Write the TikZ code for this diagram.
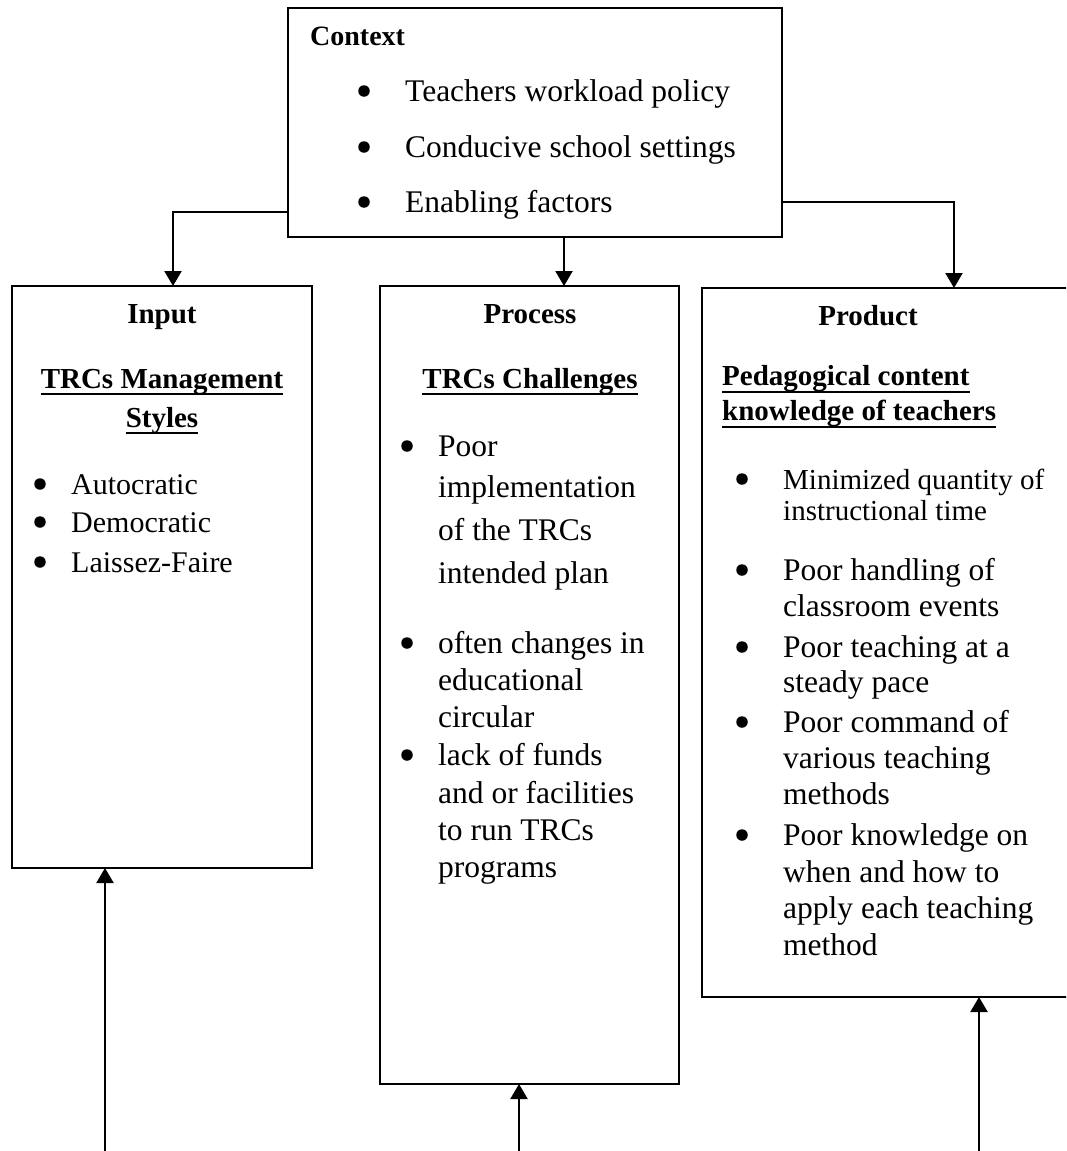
\documentclass[tikz,border=0pt]{standalone}
\usepackage{fontspec}
\setmainfont{Liberation Serif}
\usetikzlibrary{calc,arrows.meta}
\begin{document}
\begin{tikzpicture}[x=1pt,y=-1pt,
  box/.style={draw,line width=2.2pt,anchor=north west,inner sep=0pt,outer sep=0pt},
  arr/.style={line width=2.2pt,-{Triangle[length=15pt,width=17pt]}},
  bul/.style={circle,fill,inner sep=0pt,minimum size=11.5pt},
  hd/.style={anchor=base,inner sep=0pt,font=\bfseries\fontsize{29}{29}\selectfont},
  hl/.style={anchor=base west,inner sep=0pt,font=\bfseries\fontsize{29}{29}\selectfont},
  tx/.style={anchor=base west,inner sep=0pt,font=\fontsize{31.5}{31.5}\selectfont},
  tin/.style={anchor=base west,inner sep=0pt,font=\fontsize{30}{30}\selectfont},
  tsm/.style={anchor=base west,inner sep=0pt,font=\fontsize{29}{29}\selectfont},
  ul/.style={line width=2pt}
]
\clip (0,0) rectangle (1066,1151);
\fill[white] (0,0) rectangle (1066,1151);

% boxes
\node[box,minimum width=494pt,minimum height=229pt] (ctx) at (288,8) {};
\node[box,minimum width=300pt,minimum height=582pt] (inp) at (12,286) {};
\node[box,minimum width=299pt,minimum height=798pt] (proc) at (380,286) {};
\node[box,minimum width=390pt,minimum height=709pt] (prod) at (702,288) {};

% context text
\node[hl,font=\bfseries\fontsize{28}{28}\selectfont] (cth) at (310,45) {Context};
\node[bul] (cb1) at (364,91) {};
\node[tx] (ct1) at (405,101) {Teachers workload policy};
\node[bul] (cb2) at (364,147) {};
\node[tx] (ct2) at (405,157) {Conducive school settings};
\node[bul] (cb3) at (364,202) {};
\node[tx] (ct3) at (405,212) {Enabling factors};

% input text
\node[hd] (ih1) at (162,323) {Input};
\node[hd] (ih2) at (162,388) {TRCs Management};
\node[hd] (ih3) at (162,427) {Styles};
\draw[ul] ($(ih2.base west)+(0,6)$) -- ($(ih2.base east)+(0,6)$);
\draw[ul] ($(ih3.base west)+(0,6)$) -- ($(ih3.base east)+(0,6)$);
\node[bul] (ib1) at (40,484) {};
\node[tin] (it1) at (71,494) {Autocratic};
\node[bul] (ib2) at (40,522) {};
\node[tin] (it2) at (71,532) {Democratic};
\node[bul] (ib3) at (40,562) {};
\node[tin] (it3) at (71,572) {Laissez-Faire};

% process text
\node[hd] (ph1) at (530,323) {Process};
\node[hd] (ph2) at (530,388) {TRCs Challenges};
\draw[ul] ($(ph2.base west)+(0,6)$) -- ($(ph2.base east)+(0,6)$);
\node[bul] (pb1) at (407,446) {};
\node[tx] (pt1) at (438,456) {Poor};
\node[tx] (pt2) at (438,497) {implementation};
\node[tx] (pt3) at (438,540) {of the TRCs};
\node[tx] (pt4) at (438,583) {intended plan};
\node[bul] (pb2) at (407,643) {};
\node[tx] (pt5) at (438,653) {often changes in};
\node[tx] (pt6) at (438,690) {educational};
\node[tx] (pt7) at (438,727) {circular};
\node[bul] (pb3) at (407,755) {};
\node[tx] (pt8) at (438,765) {lack of funds};
\node[tx] (pt9) at (438,803) {and or facilities};
\node[tx] (pt10) at (438,840) {to run TRCs};
\node[tx] (pt11) at (438,877) {programs};

% product text
\node[hd] (rh1) at (868,325) {Product};
\node[hl] (rh2) at (722,385) {Pedagogical content};
\node[hl] (rh3) at (722,420) {knowledge of teachers};
\draw[ul] ($(rh2.base west)+(0,7)$) -- ($(rh2.base east)+(0,7)$);
\draw[ul] ($(rh3.base west)+(0,7)$) -- ($(rh3.base east)+(0,7)$);
\node[bul] (rb1) at (742,479) {};
\node[tsm] (rt1) at (783,489) {Minimized quantity of};
\node[tsm] (rt2) at (783,520) {instructional time};
\node[bul] (rb2) at (742,570) {};
\node[tx] (rt3) at (783,580) {Poor handling of};
\node[tx] (rt4) at (783,616) {classroom events};
\node[bul] (rb3) at (742,647) {};
\node[tx] (rt5) at (783,657) {Poor teaching at a};
\node[tx] (rt6) at (783,692) {steady pace};
\node[bul] (rb4) at (742,722) {};
\node[tx] (rt7) at (783,732) {Poor command of};
\node[tx] (rt8) at (783,768) {various teaching};
\node[tx] (rt9) at (783,804) {methods};
\node[bul] (rb5) at (742,835) {};
\node[tx] (rt10) at (783,845) {Poor knowledge on};
\node[tx] (rt11) at (783,882) {when and how to};
\node[tx] (rt12) at (783,918) {apply each teaching};
\node[tx] (rt13) at (783,955) {method};

% connectors from context
\draw[arr] ($(ctx.south west)+(0,-25)$) -| ($(inp.north west)+(161,0)$);
\draw[arr] ($(ctx.south west)+(276,0)$) -- ($(proc.north west)+(184,0)$);
\draw[arr] ($(ctx.south east)+(0,-35)$) -| ($(prod.north west)+(252,0)$);

% bottom connectors
\coordinate (b1) at (105,1151);
\coordinate (b2) at (519,1151);
\coordinate (b3) at (979,1151);
\draw[arr] (b1) -- (b1 |- inp.south);
\draw[arr] (b2) -- (b2 |- proc.south);
\draw[arr] (b3) -- (b3 |- prod.south);
\end{tikzpicture}
\end{document}
